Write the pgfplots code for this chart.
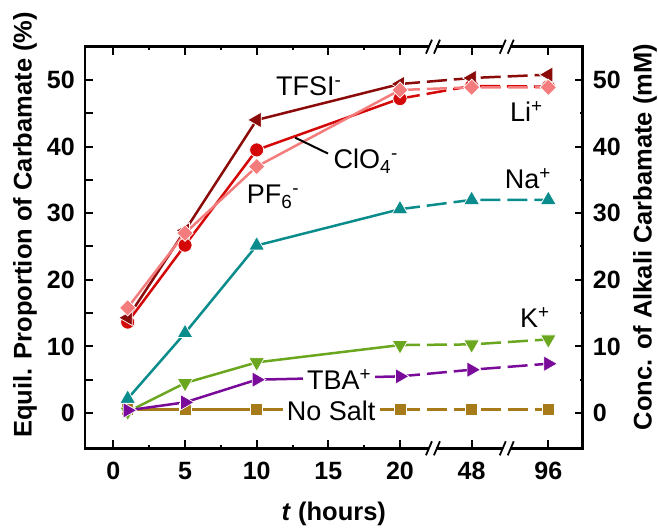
\documentclass[border=0pt]{standalone}
\usepackage{fontspec}
\setmainfont{Liberation Sans}
\usepackage{pgfplots}
\pgfplotsset{compat=1.18}

\definecolor{cTFSI}{HTML}{8B0A0A}
\definecolor{cClO}{HTML}{D40808}
\definecolor{cPF}{HTML}{F57C7C}
\definecolor{cNa}{HTML}{0A8C8C}
\definecolor{cK}{HTML}{6AA61E}
\definecolor{cTBA}{HTML}{7A0A9A}
\definecolor{cNo}{HTML}{A87B1A}

\tikzset{ann/.style={font=\fontsize{27}{32}\selectfont, inner sep=0pt, anchor=base west}}
\pgfplotsset{
 ln/.style={color=#1, line width=2.5pt, no marks, solid, forget plot},
 dl/.style={color=#1, line width=2.5pt, no marks, dash pattern=on 20pt off 7pt, forget plot},
 mk/.style n args={3}{only marks, mark=#2, forget plot, mark options={fill=#1, draw=white, line width=0.7pt, solid, rotate=#3}},
 base/.style={
  scale only axis, width=497.7pt, height=401.6pt,
  at={(0,0)}, anchor=south west,
  xmin=-1.98, xmax=32.75, ymin=-5.3, ymax=55,
  /pgf/number format/assume math mode=true,
  tick align=inside,
  major tick length=8pt, minor tick length=3pt,
  tick style={line width=2pt, black},
  axis line style={line width=2.5pt},
  ticklabel style={font=\bfseries\fontsize{25}{30}\selectfont},
  label style={font=\bfseries\fontsize{25.5}{30}\selectfont},
  clip=false,
 }
}

\begin{document}
\begin{tikzpicture}
\begin{axis}[base,
  xtick={0,5,10,15,20,25,30.35},
  xticklabels={0,5,10,15,20,48,96},
  minor xtick={2.5,7.5,12.5,17.5},
  xticklabel style={inner sep=0pt, anchor=north, yshift=-14pt},
  ytick={0,10,20,30,40,50},
  ytick pos=left,
  extra y ticks={5,15,25,35,45},
  extra y tick labels={},
  extra y tick style={ytick pos=left},
  yticklabel style={inner sep=0pt, anchor=east, xshift=-10pt},
  xlabel={\textit{t} (hours)},
  xlabel style={at={(axis description cs:0.5,-0.1636)}, anchor=center},
  ylabel={Equil. Proportion of Carbamate (\%)},
  ylabel style={at={(axis description cs:-0.1206,0.556)}, anchor=center},
]
% No Salt
\addplot[ln=cNo] coordinates {(1,0.5)(5,0.5)(10,0.5)(20,0.5)};
\addplot[dl=cNo] coordinates {(20,0.5)(25,0.5)(30.35,0.5)};
\addplot[mk={cNo}{square*}{0}, mark size=6pt] coordinates {(1,0.5)(5,0.5)(10,0.5)(20,0.5)(25,0.5)(30.35,0.5)};
% K+
\addplot[ln=cK] coordinates {(1,0.2)(5,4.5)(10,7.6)(20,10.2)};
\addplot[dl=cK] coordinates {(20,10.2)(25,10.3)(30.35,11.05)};
\addplot[mk={cK}{triangle*}{180}, mark size=9pt] coordinates {(1,0.2)(5,4.5)(10,7.6)(20,10.2)(25,10.3)(30.35,11.05)};
% TBA+
\addplot[ln=cTBA] coordinates {(1,0.4)(5,1.6)(10,5.0)(20,5.5)};
\addplot[dl=cTBA] coordinates {(20,5.5)(25,6.5)(30.35,7.4)};
\addplot[mk={cTBA}{triangle*}{-90}, mark size=9pt] coordinates {(1,0.4)(5,1.6)(10,5.0)(20,5.5)(25,6.5)(30.35,7.4)};
% Na+
\addplot[ln=cNa] coordinates {(1,2.15)(5,12.0)(10,25.15)(20,30.6)};
\addplot[dl=cNa] coordinates {(20,30.6)(25,32.0)(30.35,32.0)};
\addplot[mk={cNa}{triangle*}{0}, mark size=9pt] coordinates {(1,2.15)(5,12.0)(10,25.15)(20,30.6)(25,32.0)(30.35,32.0)};
% ClO4-
\addplot[ln=cClO] coordinates {(1,13.65)(5,25.2)(10,39.5)(20,47.2)};
\addplot[dl=cClO] coordinates {(20,47.2)(25,49.1)(30.35,49.0)};
\addplot[mk={cClO}{*}{0}, mark size=7pt] coordinates {(1,13.65)(5,25.2)(10,39.5)(20,47.2)(25,49.1)(30.35,49.0)};
% TFSI-
\addplot[ln=cTFSI] coordinates {(1,14.3)(5,27.4)(10,44.0)(20,49.4)};
\addplot[dl=cTFSI] coordinates {(20,49.4)(25,50.3)(30.35,50.8)};
\addplot[mk={cTFSI}{triangle*}{90}, mark size=9pt] coordinates {(1,14.3)(5,27.4)(10,44.0)(20,49.4)(25,50.3)(30.35,50.8)};
% PF6-
\addplot[ln=cPF] coordinates {(1,15.8)(5,27.0)(10,37.0)(20,48.5)};
\addplot[dl=cPF] coordinates {(20,48.5)(25,48.9)(30.35,48.9)};
\addplot[mk={cPF}{square*}{45}, mark size=5.8pt] coordinates {(1,15.8)(5,27.0)(10,37.0)(20,48.5)(25,48.9)(30.35,48.9)};

% annotations
\draw[line width=2pt] (axis cs:12.68,41.35) -- (axis cs:14.98,38.95);
\node[ann] at (axis cs:11.35,47.6) {TFSI\textsuperscript{-}};
\node[ann] at (axis cs:15.35,36.65) {ClO\textsubscript{4}\textsuperscript{-}};
\node[ann] at (axis cs:9.3,31.4) {PF\textsubscript{6}\textsuperscript{-}};
\node[ann] at (axis cs:27.67,43.8) {Li\textsuperscript{+}};
\node[ann] at (axis cs:27.3,33.65) {Na\textsuperscript{+}};
\node[ann] at (axis cs:28.37,12.9) {K\textsuperscript{+}};
\node[ann, fill=white, inner xsep=4pt, xshift=-4pt] at (axis cs:13.5,3.5) {TBA\textsuperscript{+}};
\node[ann, fill=white, inner xsep=4pt, xshift=-4pt] at (axis cs:12.1,-1.1) {No Salt};

\coordinate (bt1) at (axis cs:22.3,55);
\coordinate (bt2) at (axis cs:27.45,55);
\coordinate (bb1) at (axis cs:22.3,-5.3);
\coordinate (bb2) at (axis cs:27.45,-5.3);
\end{axis}

\begin{axis}[base,
  axis x line=none,
  axis y line*=right,
  ytick={0,10,20,30,40,50},
  minor ytick={5,15,25,35,45},
  yticklabel style={inner sep=0pt, anchor=west, xshift=10pt},
  ylabel={Conc. of Alkali Carbamate (mM)},
  ylabel style={at={(axis description cs:1.125,0.526)}, anchor=center},
]
\addplot[draw=none, forget plot] coordinates {(0,0)};
\end{axis}

\foreach \c in {bt1,bt2,bb1,bb2} {
  \fill[white] ([xshift=-3.5pt,yshift=-1.8pt]\c) rectangle ([xshift=3.5pt,yshift=1.8pt]\c);
  \draw[line width=1.8pt] ([xshift=-7pt,yshift=-7pt]\c) -- ([xshift=-1pt,yshift=7pt]\c);
  \draw[line width=1.8pt] ([xshift=1pt,yshift=-7pt]\c) -- ([xshift=7pt,yshift=7pt]\c);
}

\pgfresetboundingbox
\path[use as bounding box] (-85pt,-80.7pt) rectangle (573pt,448.3pt);
\end{tikzpicture}
\end{document}
